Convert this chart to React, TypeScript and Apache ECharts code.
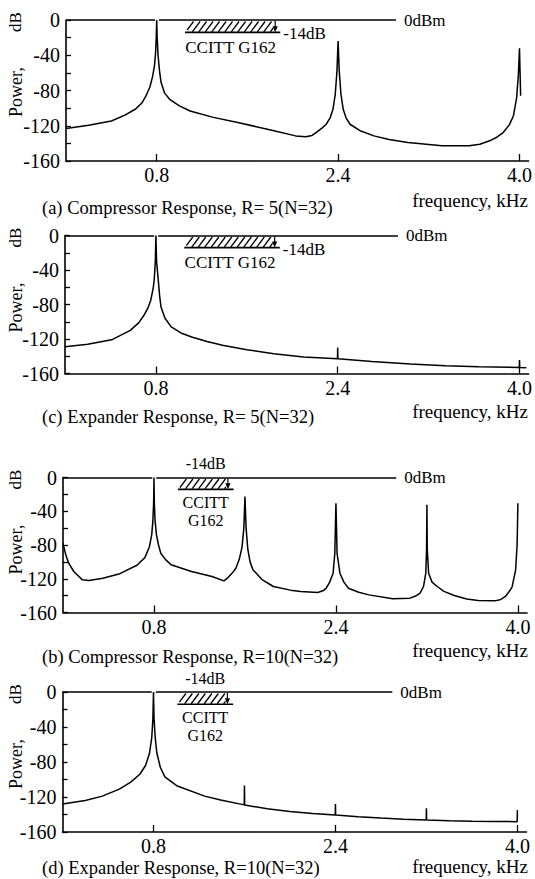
import React, { useEffect, useRef } from "react";
import * as echarts from "echarts";

// ---------- data ----------
const freqTicks = [0.8, 2.4, 4.0];

// (a) Compressor Response, R=5
const compR5: number[][] = [
  [0, -123], [0.2, -119.5], [0.4, -114.6], [0.52, -108], [0.614, -101], [0.67, -94], [0.704, -86.5],
  [0.74, -76], [0.764, -64], [0.78, -52], [0.79, -38], [0.796, -20], [0.8, 0], [0.804, -20], [0.812, -40],
  [0.825, -58], [0.839, -71], [0.87, -83], [0.914, -90], [1.0, -97.5], [1.095, -103.3], [1.3, -110.5],
  [1.515, -116.4], [1.815, -125], [2.025, -131.5], [2.115, -132.6], [2.17, -131], [2.205, -127.7],
  [2.255, -123], [2.295, -118.3], [2.33, -111], [2.355, -101.4], [2.375, -84], [2.39, -58], [2.4, -24],
  [2.41, -58], [2.425, -84], [2.445, -101.4], [2.47, -111], [2.505, -118.3], [2.6, -126], [2.716, -131.5],
  [2.85, -135.5], [3.016, -139], [3.316, -142.7], [3.556, -142.7], [3.65, -141], [3.736, -137.1],
  [3.8, -133], [3.856, -127.7], [3.91, -119], [3.946, -109], [3.975, -88], [3.99, -62], [4.0, -32],
  [4.005, -60], [4.01, -86],
];

// (c) Expander Response, R=5
const expR5: number[][] = [
  [0, -129], [0.2, -126], [0.41, -121], [0.575, -110], [0.65, -101], [0.695, -92.5], [0.73, -84],
  [0.755, -75], [0.775, -62], [0.785, -52], [0.795, -30], [0.8, 0], [0.806, -30], [0.821, -52],
  [0.833, -70], [0.845, -83], [0.88, -96], [0.935, -106], [1.02, -113], [1.115, -117.6], [1.25, -123],
  [1.386, -127.2], [1.6, -132.5], [1.837, -137], [2.1, -140.8], [2.398, -142.8], [2.4, -130],
  [2.402, -142.8], [2.7, -146], [3.04, -149], [3.35, -151], [3.64, -152.2], [3.998, -153], [4.0, -144.5],
  [4.002, -153], [4.06, -153.3],
];

// (b) Compressor Response, R=10
const compR10: number[][] = [
  [0, -78], [0.025, -92], [0.05, -101.5], [0.095, -111.4], [0.17, -121.3], [0.23, -122.1], [0.35, -119.3],
  [0.5, -114], [0.65, -104], [0.72, -95], [0.76, -82], [0.78, -68], [0.79, -52], [0.797, -30], [0.8, 0],
  [0.803, -30], [0.81, -52], [0.822, -68], [0.84, -80], [0.86, -89.7], [0.9, -97], [0.95, -103.5],
  [1.13, -111.4], [1.31, -117.3], [1.415, -122.5], [1.445, -119.3], [1.49, -113], [1.52, -107.5],
  [1.55, -97], [1.575, -82], [1.59, -60], [1.6, -22.5], [1.61, -60], [1.625, -85], [1.645, -100],
  [1.67, -109.4], [1.75, -121], [1.85, -129.2], [2.0, -133.5], [2.09, -135.1], [2.24, -136.3],
  [2.29, -134], [2.315, -131.2], [2.345, -124], [2.375, -113.4], [2.39, -90], [2.4, -30.4], [2.41, -90],
  [2.435, -113.4], [2.47, -124], [2.51, -131.2], [2.6, -136], [2.69, -139.1], [2.9, -143.8],
  [3.05, -143], [3.1, -140.5], [3.14, -137.1], [3.17, -129.2], [3.19, -113.4], [3.197, -85], [3.2, -32.4],
  [3.203, -85], [3.215, -113.4], [3.245, -124], [3.29, -129.2], [3.35, -135], [3.44, -139.9],
  [3.55, -144], [3.65, -145.8], [3.8, -146.2], [3.85, -144.5], [3.89, -141], [3.93, -134],
  [3.95, -129.2], [3.98, -109.4], [3.993, -80], [4.0, -30.4],
];

// (d) Expander Response, R=10
const expR10: number[][] = [
  [0, -128], [0.2, -124], [0.35, -119], [0.5, -111], [0.6, -103], [0.68, -94], [0.73, -84], [0.765, -70],
  [0.785, -52], [0.795, -30], [0.8, 0], [0.805, -30], [0.815, -52], [0.83, -70], [0.86, -86],
  [0.9, -97], [1.01, -107.5], [1.25, -119], [1.39, -123.4], [1.598, -129], [1.6, -107], [1.602, -129.1],
  [1.8, -133.5], [2.0, -136.5], [2.2, -138.8], [2.398, -140.6], [2.4, -128], [2.402, -140.7],
  [2.6, -142.5], [2.8, -144], [3.0, -145.3], [3.198, -146.3], [3.2, -133], [3.202, -146.3],
  [3.4, -147.1], [3.6, -147.6], [3.8, -148], [3.998, -148.2], [4.0, -135],
];

const panelTitles = [
  "(a) Compressor Response, R= 5(N=32)",
  "(c) Expander Response, R= 5(N=32)",
  "(b) Compressor Response, R=10(N=32)",
  "(d) Expander Response, R=10(N=32)",
];
const refLineEnds = [2.91, 2.93, 2.93, 2.9]; // kHz where the 0 dBm line stops
const refGap = [0.785, 0.82]; // gap of the 0 dBm line at the 0.8 kHz peak
const g162R5 = [1.05, 1.89, 1.845]; // hatch start, bottom-line end, arrow (kHz)
const g162R10 = [1.01, 1.5, 1.45];
const g162Level = -14;

// ---------- layout ----------
const FONT = '"Liberation Serif", "DejaVu Serif", serif';
const panels = [
  { data: compR5, g162: g162R5, refEnd: refLineEnds[0], title: panelTitles[0], left: 66, top: 20, height: 141, stack: false, titleY: 208, freqY: 200 },
  { data: expR5, g162: g162R5, refEnd: refLineEnds[1], title: panelTitles[1], left: 65, top: 235.5, height: 138, stack: false, titleY: 417, freqY: 411 },
  { data: compR10, g162: g162R10, refEnd: refLineEnds[2], title: panelTitles[2], left: 63, top: 477.5, height: 135, stack: true, titleY: 657, freqY: 650 },
  { data: expR10, g162: g162R10, refEnd: refLineEnds[3], title: panelTitles[3], left: 62.5, top: 692, height: 140, stack: true, titleY: 868, freqY: 866 },
];
const X_MAX = 4.08;
const GRID_W = 464;

function makeG162Renderer(stack: boolean) {
  return (params: any, api: any) => {
    const from = api.value(0);
    const to = api.value(1);
    const arrowAt = api.value(2);
    const level = api.value(3);
    const p0 = api.coord([from, 0]);
    const p1 = api.coord([to, level]);
    const x0 = p0[0];
    const yTop = p0[1];
    const x1 = p1[0];
    const yBot = p1[1];
    const xa = api.coord([arrowAt, 0])[0];
    const children: any[] = [];
    const top = yTop + 1.5;
    const bot = yBot - 0.5;
    const dx = (bot - top) * 0.75;
    const spacing = 6.5;
    const hx0 = x0 + 2;
    for (let xb = hx0 - dx; xb < xa; xb += spacing) {
      const tMin = Math.max(0, (hx0 - xb) / dx);
      const tMax = Math.min(1, (xa - 2 - xb) / dx);
      if (tMin >= tMax) continue;
      children.push({
        type: "line",
        shape: {
          x1: xb + tMin * dx, y1: bot - tMin * (bot - top),
          x2: xb + tMax * dx, y2: bot - tMax * (bot - top),
        },
        style: { stroke: "#000", lineWidth: 1.3 },
      });
    }
    children.push({
      type: "line",
      shape: { x1: x0, y1: yBot, x2: x1, y2: yBot },
      style: { stroke: "#000", lineWidth: 1.7 },
    });
    children.push({
      type: "line",
      shape: { x1: xa, y1: yTop + 1, x2: xa, y2: yBot - 3 },
      style: { stroke: "#000", lineWidth: 1.2 },
    });
    children.push({
      type: "polygon",
      shape: { points: [[xa - 2.6, yBot - 6], [xa + 2.6, yBot - 6], [xa, yBot]] },
      style: { fill: "#000" },
    });
    const txt = (text: string, x: number, y: number, align: string, size: number) => ({
      type: "text",
      x,
      y,
      style: {
        text,
        fill: "#000",
        fontFamily: FONT,
        fontSize: size,
        lineHeight: size,
        align,
        textAlign: align,
        verticalAlign: "middle",
        textVerticalAlign: "middle",
      },
    });
    if (!stack) {
      children.push(txt(String(level) + "dB", x1 + 3, yBot + 1.5, "left", 17));
      children.push(txt("CCITT G162", (x0 + x1) / 2 - 2, yBot + 15, "center", 17));
    } else {
      const cx = (x0 + x1) / 2;
      children.push(txt(String(level) + "dB", cx, yTop - 14, "center", 16));
      children.push(txt("CCITT", cx, yBot + 13, "center", 16));
      children.push(txt("G162", cx, yBot + 31, "center", 16));
    }
    return { type: "group", children };
  };
}

export default function App() {
  const ref = useRef<HTMLDivElement>(null);
  useEffect(() => {
    if (!ref.current) return;
    const chart = echarts.init(ref.current, undefined, { renderer: "svg" });

    const grid: any[] = [];
    const xAxis: any[] = [];
    const yAxis: any[] = [];
    const series: any[] = [];
    const graphic: any[] = [];

    panels.forEach((p, i) => {
      grid.push({ left: p.left, top: p.top, width: GRID_W, height: p.height });
      xAxis.push({
        gridIndex: i,
        type: "value",
        min: 0,
        max: X_MAX,
        axisLine: { show: true, onZero: false, lineStyle: { color: "#000", width: 1.6 } },
        axisTick: { show: true, inside: true, length: 7, customValues: freqTicks, lineStyle: { color: "#000", width: 1.3 } },
        axisLabel: {
          customValues: freqTicks,
          formatter: (v: number) => v.toFixed(1),
          margin: 4,
          color: "#000",
          fontFamily: FONT,
          fontSize: 20,
        },
        splitLine: { show: false },
      });
      yAxis.push({
        gridIndex: i,
        type: "value",
        min: -160,
        max: 0,
        interval: 20,
        axisLine: { show: true, onZero: false, lineStyle: { color: "#000", width: 1.6 } },
        axisTick: { show: true, inside: true, length: 5, lineStyle: { color: "#000", width: 1.3 } },
        axisLabel: {
          formatter: (v: number) => (v % 40 === 0 ? String(v) : ""),
          margin: 6,
          color: "#000",
          fontFamily: FONT,
          fontSize: 20,
        },
        splitLine: { show: false },
      });
      series.push({
        type: "line",
        xAxisIndex: i,
        yAxisIndex: i,
        data: p.data,
        showSymbol: false,
        symbol: "none",
        clip: false,
        lineStyle: { color: "#000", width: 1.5 },
        silent: true,
        markLine: {
          silent: true,
          symbol: ["none", "none"],
          lineStyle: { color: "#000", width: 1.5, type: "solid" },
          label: {
            show: true,
            position: "end",
            distance: 8,
            formatter: (q: any) => (q.dataIndex === 1 ? "0dBm" : ""),
            color: "#000",
            fontFamily: FONT,
            fontSize: 17,
          },
          emphasis: { disabled: true },
          data: [
            [{ coord: [0, 0] }, { coord: [refGap[0], 0] }],
            [{ coord: [refGap[1], 0] }, { coord: [p.refEnd, 0] }],
          ],
        },
      });
      series.push({
        type: "custom",
        xAxisIndex: i,
        yAxisIndex: i,
        clip: false,
        silent: true,
        renderItem: makeG162Renderer(p.stack),
        data: [[p.g162[0], p.g162[1], p.g162[2], g162Level]],
      });

      graphic.push({
        type: "text",
        x: 15,
        y: p.top + 2,
        rotation: Math.PI / 2,
        style: { text: "dB", fill: "#000", fontFamily: FONT, fontSize: 17, align: "center", textAlign: "center", verticalAlign: "middle", textVerticalAlign: "middle" },
      });
      graphic.push({
        type: "text",
        x: 16,
        y: p.top + 72,
        rotation: Math.PI / 2,
        style: { text: "Power,", fill: "#000", fontFamily: FONT, fontSize: 18, align: "center", textAlign: "center", verticalAlign: "middle", textVerticalAlign: "middle" },
      });
      graphic.push({
        type: "text",
        x: 42,
        y: p.titleY,
        style: { text: p.title, fill: "#000", fontFamily: FONT, fontSize: 18.5, align: "left", textAlign: "left", verticalAlign: "middle", textVerticalAlign: "middle" },
      });
      graphic.push({
        type: "text",
        x: 528,
        y: p.freqY,
        style: { text: "frequency, kHz", fill: "#000", fontFamily: FONT, fontSize: 19, align: "right", textAlign: "right", verticalAlign: "middle", textVerticalAlign: "middle" },
      });
    });

    chart.setOption({
      animation: false,
      backgroundColor: "#fff",
      grid,
      xAxis,
      yAxis,
      series,
      graphic,
    });
    return () => chart.dispose();
  }, []);

  return <div ref={ref} style={{ position: "absolute", left: 0, top: 0, width: 535, height: 879, background: "#fff" }} />;
}
